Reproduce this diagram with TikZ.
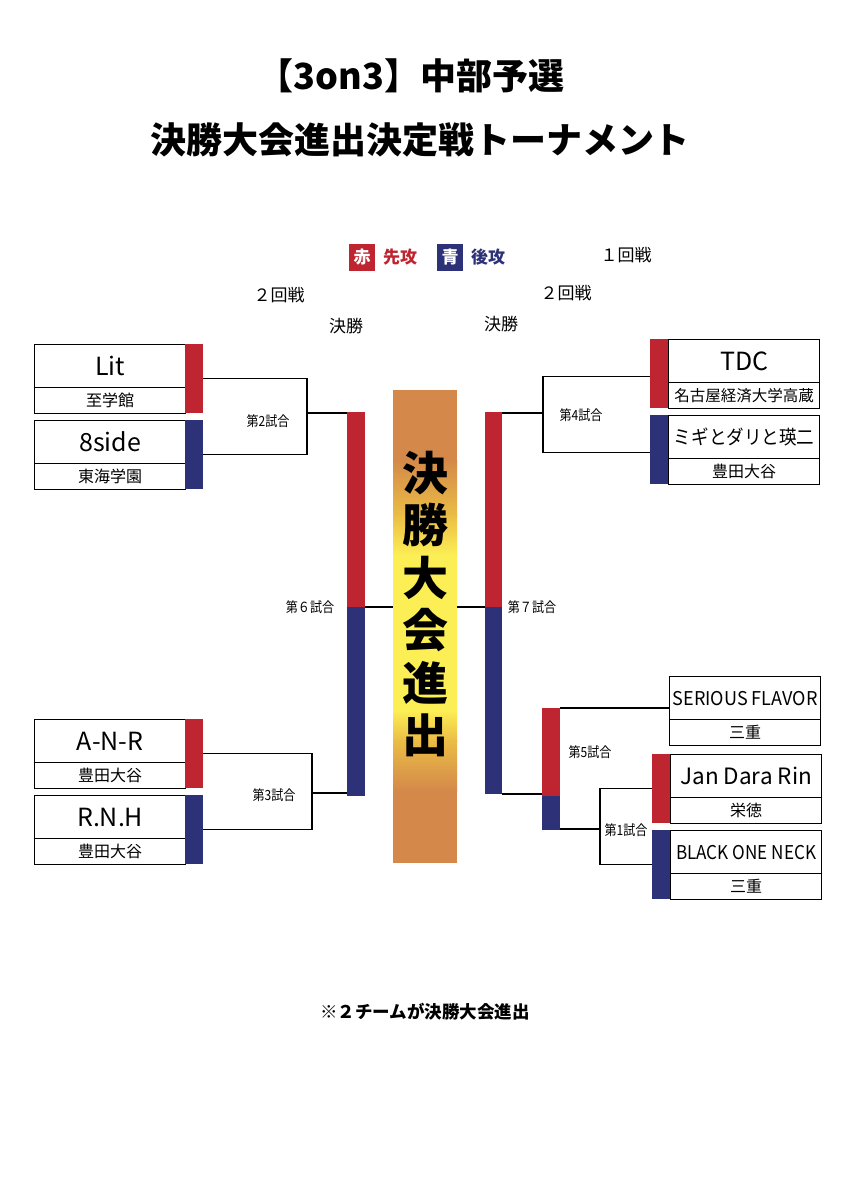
\documentclass[tikz,border=0pt]{standalone}
\usepackage{fontspec}
\setmainfont{Noto Sans CJK JP}
\definecolor{tred}{HTML}{BE2530}
\definecolor{tblue}{HTML}{2D3177}
\definecolor{torange}{HTML}{D4894A}
\definecolor{tyellow}{HTML}{FCEF55}
\definecolor{tgold}{HTML}{EBBD45}
\newcommand\fs[1]{\fontsize{#1}{#1}\selectfont}
\tikzset{
  namecell/.style={draw, line width=1.3pt, minimum width=151pt, minimum height=43pt, anchor=north west, inner sep=0pt, font=\fs{25}},
  schoolcell/.style={draw, line width=1.3pt, minimum width=151pt, minimum height=26pt, anchor=north west, inner sep=0pt, font=\fs{16}},
  teambar/.style={fill=#1, draw=none, minimum width=18pt, minimum height=69pt, anchor=north west, inner sep=0pt, outer sep=0pt},
  midbar/.style={fill=#1, draw=none, anchor=north west, inner sep=0pt, outer sep=0pt, minimum width=18pt},
  conn/.style={line width=1.3pt},
  matchlbl/.style={font=\fs{14}, inner sep=0pt},
  hdr/.style={font=\fs{17}, inner sep=0pt},
  finalch/.style={font=\bfseries\fs{46}, inner sep=0pt}
}
% team with bar on the right
\newcommand\teamboxL[6]{%
  \node[namecell] (#1-n) at (#2,#3) {#5};
  \node[schoolcell] (#1-s) at (#2,#3+43) {#6};
  \node[teambar=#4] (#1-b) at (#2+151,#3) {};
}
% team with bar on the left
\newcommand\teamboxR[6]{%
  \node[teambar=#4] (#1-b) at (#2,#3) {};
  \node[namecell] (#1-n) at (#2+18,#3) {#5};
  \node[schoolcell] (#1-s) at (#2+18,#3+43) {#6};
}
\begin{document}
\begin{tikzpicture}[x=1pt,y=-1pt]
\useasboundingbox (0,0) rectangle (850,1195);
\fill[white] (0,0) rectangle (850,1195);

% title
\node[font=\bfseries\fs{36}, inner sep=0pt] (t1) at (411,76) {【3on3】中部予選};
\node[font=\bfseries\fs{36}, inner sep=0pt] (t2) at (420,140) {決勝大会進出決定戦トーナメント};

% legend
\node[fill=tred, text=white, font=\bfseries\fs{17}, minimum width=26pt, minimum height=27pt, inner sep=0pt] (lr) at (362,257.5) {赤};
\node[text=tred, font=\bfseries\fs{17}, inner sep=0pt] (lrt) at (400,257) {先攻};
\node[fill=tblue, text=white, font=\bfseries\fs{17}, minimum width=26pt, minimum height=27pt, inner sep=0pt] (lb) at (450,257.5) {青};
\node[text=tblue, font=\bfseries\fs{17}, inner sep=0pt] (lbt) at (488,257) {後攻};

% round headers
\node[hdr] (h1) at (626,255) {１回戦};
\node[hdr] (h2l) at (279,295) {２回戦};
\node[hdr] (hfl) at (346,326) {決勝};
\node[hdr] (h2r) at (566,293) {２回戦};
\node[hdr] (hfr) at (501,324) {決勝};

% left teams
\teamboxL{lit}{34}{344}{tred}{Lit}{至学館}
\teamboxL{eight}{34}{420}{tblue}{8side}{東海学園}
\teamboxL{anr}{34}{719}{tred}{A-N-R}{豊田大谷}
\teamboxL{rnh}{34}{795}{tblue}{R.N.H}{豊田大谷}

% right teams
\teamboxR{tdc}{650}{339}{tred}{TDC}{\fs{15.5}名古屋経済大学高蔵}
\teamboxR{migi}{650}{415}{tblue}{\scalebox{0.9}[1]{\fs{19.5}ミギとダリと瑛二}}{豊田大谷}
\teamboxR{jan}{652}{754}{tred}{\fs{22.5}Jan Dara Rin}{栄徳}
\teamboxR{blk}{652}{830}{tblue}{\scalebox{0.9}[1]{\fs{19}BLACK ONE NECK}}{三重}
\node[namecell] (ser-n) at (669,676) {\scalebox{0.95}[1]{\fs{19}SERIOUS FLAVOR}};
\node[schoolcell] (ser-s) at (669,719) {三重};

% central bars
\node[midbar=tred, minimum height=195pt] (lbarR) at (347,412) {};
\node[midbar=tblue, minimum height=189pt] (lbarB) at (347,607) {};
\node[midbar=tred, minimum width=17pt, minimum height=195pt] (rbarR) at (485,412) {};
\node[midbar=tblue, minimum width=17pt, minimum height=187pt] (rbarB) at (485,607) {};
\node[midbar=tred, minimum height=88pt] (b5R) at (542,708) {};
\node[midbar=tblue, minimum height=34pt] (b5B) at (542,796) {};

% final box (gradient in bands)
\node[minimum width=64pt, minimum height=473pt, anchor=north west, inner sep=0pt, outer sep=0pt] (final) at (393,390) {};
\fill[torange] (393,390) rectangle (457,461);
\fill[top color=torange, bottom color=tgold] (393,460) rectangle (457,516);
\fill[top color=tgold, bottom color=tyellow] (393,515) rectangle (457,556);
\fill[tyellow] (393,555) rectangle (457,711);
\fill[top color=tyellow, bottom color=tgold] (393,710) rectangle (457,741);
\fill[top color=tgold, bottom color=torange] (393,740) rectangle (457,791);
\fill[torange] (393,790) rectangle (457,863);
\node[finalch] (c1) at (425,473) {決};
\node[finalch] (c2) at (425,525) {勝};
\node[finalch] (c3) at (425,578) {大};
\node[finalch] (c4) at (425,630) {会};
\node[finalch] (c5) at (425,683) {進};
\node[finalch] (c6) at (425,735) {出};

% brackets
\coordinate (m2) at (307,413);
\coordinate (m3) at (312,793);
\coordinate (m4) at (543,413);
\coordinate (m1) at (600,829);
\draw[conn] (lit-b.east) -| (m2) |- (eight-b.east);
\draw[conn] (m2) -- (m2 -| lbarR.west);
\draw[conn] (anr-b.east) -| (m3) |- (rnh-b.east);
\draw[conn] (m3) -- (m3 -| lbarB.west);
\draw[conn] (lbarR.south east) -- (lbarR.south east -| final.west);
\draw[conn] (rbarR.south west -| final.east) -- (rbarR.south west);
\draw[conn] ([yshift=-3pt]tdc-b.west) -| (m4) |- ([yshift=-3pt]migi-b.west);
\draw[conn] (m4) -- (m4 -| rbarR.east);
\draw[conn] (rbarB.south east) -- (rbarB.south east -| b5R.west);
\draw[conn] (b5R.north east) -- (b5R.north east -| ser-n.west);
\draw[conn] (jan-b.west) -| (m1) |- (blk-b.west);
\draw[conn] (b5B.south east |- m1) -- (m1);

% match labels
\node[matchlbl] (g2) at (268,421) {\scalebox{0.86}[1]{第2試合}};
\node[matchlbl] (g3) at (274,795) {\scalebox{0.86}[1]{第3試合}};
\node[matchlbl] (g6) at (310,607) {\scalebox{0.86}[1]{第６試合}};
\node[matchlbl] (g7) at (532,607) {\scalebox{0.86}[1]{第７試合}};
\node[matchlbl] (g4) at (581,415) {\scalebox{0.86}[1]{第4試合}};
\node[matchlbl] (g5) at (590,752) {\scalebox{0.86}[1]{第5試合}};
\node[matchlbl] (g1) at (626,830) {\scalebox{0.86}[1]{第1試合}};

% footer
\node[font=\bfseries\fs{17.5}, inner sep=0pt] (foot) at (425,1012) {※２チームが決勝大会進出};
\end{tikzpicture}
\end{document}
